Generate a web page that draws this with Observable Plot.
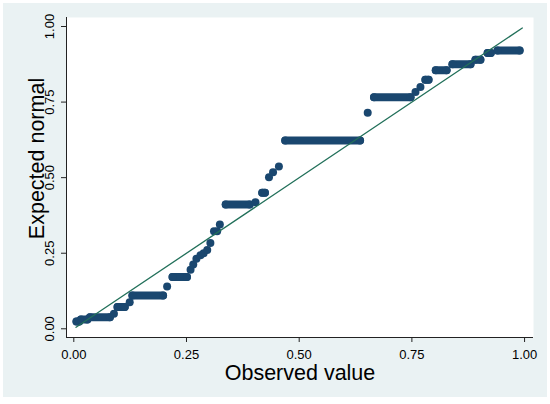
<!DOCTYPE html>
<html><head><meta charset="utf-8">
<script src="https://cdn.jsdelivr.net/npm/d3@7"></script>
<script src="https://cdn.jsdelivr.net/npm/@observablehq/plot@0.6"></script>
<style>
html,body{margin:0;padding:0;background:#fff;}
#wrap{position:absolute;left:3px;top:3px;width:544px;height:394px;background:#eaf2f3;}
</style></head><body><div id="wrap"></div>
<script>
// Horizontal runs of tied points: start x, end x, expected-normal value
const runX1 = [0.006, 0.016, 0.036, 0.097, 0.130, 0.219, 0.337, 0.418, 0.469, 0.666, 0.780, 0.803, 0.840, 0.891, 0.918, 0.940];
const runX2 = [0.012, 0.030, 0.080, 0.113, 0.198, 0.251, 0.390, 0.424, 0.635, 0.747, 0.787, 0.827, 0.880, 0.902, 0.925, 0.989];
const runY  = [0.024, 0.031, 0.038, 0.072, 0.110, 0.171, 0.411, 0.450, 0.623, 0.766, 0.824, 0.855, 0.875, 0.890, 0.912, 0.921];
// Isolated points
const singleX = [0.089, 0.124, 0.207, 0.259, 0.265, 0.272, 0.281, 0.288, 0.296, 0.303, 0.311, 0.318, 0.324, 0.403, 0.433, 0.442, 0.455, 0.652, 0.758, 0.769];
const singleY = [0.050, 0.088, 0.140, 0.195, 0.213, 0.232, 0.243, 0.250, 0.261, 0.284, 0.323, 0.323, 0.345, 0.419, 0.501, 0.518, 0.537, 0.715, 0.783, 0.800];
// Reference line y = x
const refX = [0.005, 0.995];
const refY = [0.005, 0.995];
const xTicks = [0, 0.25, 0.5, 0.75, 1];
const yTicks = [0, 0.25, 0.5, 0.75, 1];
const xTitle = "Observed value";
const yTitle = "Expected normal";
const xDomain = [-0.0162, 1.0198];
const yDomain = [-0.0288, 1.0298];

const runs = runX1.map((x1, i) => ({x1, x2: runX2[i], y: runY[i]}));
const singles = singleX.map((x, i) => ({x, y: singleY[i]}));
const ends = runs.flatMap(r => [{x: r.x1, y: r.y}, {x: r.x2, y: r.y}]);
const ref = refX.map((x, i) => ({x, y: refY[i]}));
const navy = "#1a476f";
const rad = 4;
const fmt = d3.format(".2f");

const plot = Plot.plot({
  width: 544, height: 394,
  marginLeft: 63, marginRight: 14, marginTop: 14, marginBottom: 60,
  x: {domain: xDomain}, y: {domain: yDomain},
  style: {background: "transparent", fontFamily: "Arial, 'Liberation Sans', sans-serif", color: "black", overflow: "visible"},
  marks: [
    Plot.frame({fill: "white", stroke: null}),
    Plot.link(runs, {x1: "x1", x2: "x2", y1: "y", y2: "y", stroke: navy, strokeWidth: 2 * rad, strokeLinecap: "round"}),
    Plot.dot(ends.concat(singles), {x: "x", y: "y", r: rad, fill: navy}),
    Plot.line(ref, {x: "x", y: "y", stroke: "#22705a", strokeWidth: 1.3}),
    Plot.ruleX([xDomain[0]], {stroke: "#222", strokeWidth: 1}),
    Plot.ruleY([yDomain[0]], {stroke: "#222", strokeWidth: 1}),
    Plot.axisX(xTicks, {tickSize: 5, tickPadding: 7, tickFormat: fmt, fontSize: 13, label: null, stroke: "#222"}),
    Plot.axisY(yTicks, {tickSize: 5, tickFormat: () => "", label: null, stroke: "#222"}),
    Plot.text(yTicks, {y: d => d, frameAnchor: "left", dx: -12.5, rotate: -90, textAnchor: "middle", lineAnchor: "bottom", text: d => fmt(d), fontSize: 13, fill: "black"}),
    Plot.text([xTitle], {frameAnchor: "bottom", dy: 42, lineAnchor: "bottom", fontSize: 21.5, fill: "black"}),
    Plot.text([yTitle], {frameAnchor: "left", dx: -23, dy: -19, rotate: -90, textAnchor: "middle", lineAnchor: "bottom", fontSize: 21.5, fill: "black"})
  ]
});
document.getElementById("wrap").appendChild(plot);
</script>
</body></html>
